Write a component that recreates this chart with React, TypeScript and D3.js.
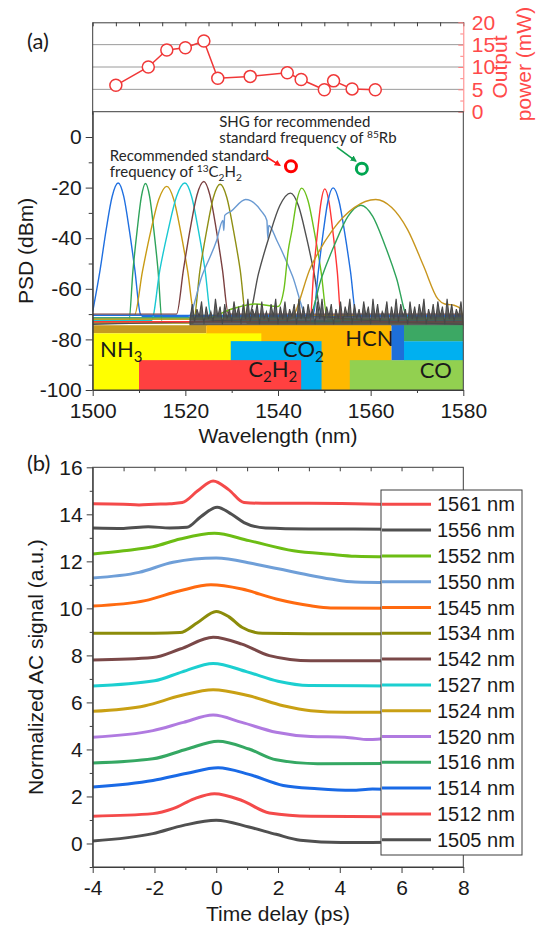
import React, { useEffect, useRef } from "react";
import * as d3 from "d3";

// ---------- (a) top: output power of each tuned line ----------
const laserWl = [1505, 1512, 1516, 1520, 1524, 1527, 1534, 1542, 1545, 1550, 1552, 1556, 1561];
const outputPower = [5.9, 10.0, 13.8, 14.3, 15.8, 7.5, 7.9, 8.7, 7.2, 4.9, 6.9, 5.1, 4.9];
const powerTicks = [0, 5, 10, 15, 20];
const powerGrid = [5, 10, 15];

// ---------- (a) PSD spectra, [nm, dBm] ----------
const spectrumPoints: [number, number][][] = [
  [[1500, -69], [1501.6, -52.5], [1502.9, -36.7], [1504.2, -23.5], [1505.5, -18.2], [1506.7, -23.5], [1507.9, -36.7], [1509.1, -52.5], [1510.3, -70], [1511, -71], [1580, -71]],
  [[1500, -73], [1507.8, -73], [1508.7, -52.6], [1509.6, -36.8], [1510.5, -23.7], [1511.4, -18.4], [1512.3, -23.7], [1513.2, -36.8], [1514.1, -52.6], [1515, -73], [1580, -73]],
  [[1500, -70.5], [1509, -70.5], [1510.75, -53], [1512.5, -37.5], [1514.25, -24.7], [1516, -19.5], [1517.5, -24.7], [1519, -37.5], [1520.5, -53], [1522, -70.5], [1580, -70.5]],
  [[1500, -72.5], [1512.7, -72.5], [1514.5, -52.5], [1516.3, -36.7], [1518.1, -23.5], [1519.9, -18.2], [1521.35, -23.5], [1522.8, -36.7], [1524.25, -52.5], [1525.7, -72.5], [1580, -72.5]],
  [[1500, -70], [1518.1, -70], [1519.6, -52.3], [1521.05, -36.3], [1522.5, -23], [1524, -17.6], [1525.3, -23], [1526.65, -36.3], [1528, -52.3], [1529.3, -70], [1580, -70]],
  [[1500, -73.5], [1521.7, -73.5], [1523.15, -52.7], [1524.6, -37], [1526.05, -23.9], [1527.5, -18.7], [1528.95, -23.9], [1530.4, -37], [1531.85, -52.7], [1533.3, -73.5], [1580, -73.5]],
  [[1500, -71.5], [1520.5, -71.5], [1523.6, -54.8], [1526.75, -40.9], [1528.1, -33], [1528.3, -37], [1528.5, -31], [1529.9, -29.3], [1533, -24.7], [1536.4, -29.3], [1537.6, -33], [1537.8, -40], [1538, -35], [1539.75, -40.9], [1543.1, -54.8], [1546.5, -71.5], [1580, -71.5]],
  [[1500, -74], [1533.5, -72], [1535.8, -53.9], [1538.1, -39.3], [1540.4, -27.1], [1542.7, -22.2], [1544.4, -27.1], [1546.1, -39.3], [1547.8, -53.9], [1549.5, -71], [1580, -74]],
  [[1500, -72], [1524, -72], [1530, -68], [1535, -66], [1540, -67], [1541.3, -60], [1542.2, -45], [1543, -37], [1544.05, -25.3], [1545.1, -20.2], [1546.5, -25.3], [1547.9, -38], [1549.3, -53.2], [1550.7, -72], [1580, -72]],
  [[1500, -73], [1546.9, -73], [1547.7, -53.3], [1548.5, -38.2], [1549.3, -25.6], [1550.1, -20.5], [1551, -25.6], [1551.9, -38.2], [1552.8, -53.3], [1553.7, -73], [1580, -73]],
  [[1500, -70.5], [1547.6, -70.5], [1548.7, -53.2], [1549.75, -37.9], [1550.8, -25.2], [1551.9, -20.1], [1553.15, -25.2], [1554.4, -37.9], [1555.65, -53.2], [1556.9, -70.5], [1580, -70.5]],
  [[1500, -71.5], [1546.6, -71.5], [1549.4, -55.6], [1552.25, -42.4], [1555.1, -31.4], [1557.9, -27], [1560.45, -31.4], [1563, -42.4], [1565.55, -55.6], [1568.1, -71.5], [1580, -71.5]],
  [[1500, -72], [1542.5, -72], [1547.15, -51.1], [1551.8, -36.7], [1556.45, -27.9], [1561.1, -24.7], [1564.55, -27.9], [1568, -36.7], [1571.45, -51.1], [1574.5, -64], [1576, -66], [1578, -66.5], [1579.5, -68], [1580, -76]],
];
const spectrumColors = ["#1f6fe0", "#2ea35a", "#c89b14", "#19c8d2", "#7b4040", "#8f8f14", "#6a9ad2", "#505050", "#6cc11a", "#ff3535", "#1f6fe0", "#2ea35a", "#c8961e"];

// noise floor of the dark grey trace, every 0.5 nm from 1521 nm
const noiseStart = 1521;
const grayNoise = [
  -72, -66, -73, -68, -71, -65, -74, -67, -72, -69, -73, -64, -71, -67, -74, -66, -72, -68, -73, -65,
  -71, -67, -74, -66, -72, -64, -73, -68, -71, -66, -74, -65, -72, -69, -73, -66, -71, -64, -74, -67,
  -72, -65, -73, -68, -71, -66, -74, -64, -72, -67, -73, -66, -71, -68, -74, -65, -72, -64, -73, -67,
  -71, -66, -74, -68, -72, -65, -73, -67, -71, -64, -74, -66, -72, -68, -73, -65, -71, -67, -74, -64,
  -72, -66, -73, -69, -71, -65, -74, -67, -72, -64, -73, -66, -71, -68, -74, -65, -72, -67, -73, -66,
  -71, -64, -74, -68, -72, -66, -73, -65, -71, -67, -74, -64, -72, -66, -73, -68, -71, -65, -74,
];
const noiseFloor = -74.4;

// absorption bands [from nm, to nm, bottom dBm, top dBm]
const bands: [number, number, number, number][] = [
  [1500, 1524.5, -77.6, -74.4],
  [1524.5, 1564.5, -100, -74.4],
  [1500, 1536.4, -100, -77.6],
  [1529.8, 1549.4, -100, -80.7],
  [1567.2, 1580, -100, -80.7],
  [1510, 1545, -100, -88.2],
  [1555.5, 1580, -100, -88.2],
  [1564.5, 1567.2, -88.2, -74.4],
  [1567.2, 1580, -80.7, -74.4],
];
const bandColors = ["#c49a22", "#ffb900", "#ffff00", "#00b0f0", "#00b0f0", "#ff4040", "#92d050", "#1e6fd9", "#3ca864"];

type Part = [string, number]; // 0 normal, 1 superscript, -1 subscript
const bandLabels: { parts: Part[]; at: [number, number] }[] = [
  { parts: [["NH", 0], ["3", -1]], at: [1501.6, -86.9] },
  { parts: [["CO", 0], ["2", -1]], at: [1541.1, -87] },
  { parts: [["HCN", 0]], at: [1554.5, -82.5] },
  { parts: [["C", 0], ["2", -1], ["H", 0], ["2", -1]], at: [1533.6, -95] },
  { parts: [["CO", 0]], at: [1570.6, -95.1] },
];

const c2h2Note: Part[][] = [[["Recommended standard", 0]], [["frequency of ", 0], ["13", 1], ["C", 0], ["2", -1], ["H", 0], ["2", -1]]];
const c2h2NoteAt: [number, number] = [1503.7, -9.3];
const rbNote: Part[][] = [[["SHG for recommended", 0]], [["standard frequency of ", 0], ["85", 1], ["Rb", 0]]];
const rbNoteAt: [number, number] = [1527.3, 4.1];
const c2h2Mark: [number, number] = [1542.8, -11.6];
const rbMark: [number, number] = [1558.1, -12.5];
const c2h2Arrow: [number, number][] = [[1537.6, -8], [1540.4, -11.2]];
const rbArrow: [number, number][] = [[1552.7, -4], [1556.8, -9.5]];

// ---------- (b) autocorrelation traces, [ps, a.u.] ----------
const acNames = ["1561 nm", "1556 nm", "1552 nm", "1550 nm", "1545 nm", "1534 nm", "1542 nm", "1527 nm", "1524 nm", "1520 nm", "1516 nm", "1514 nm", "1512 nm", "1505 nm"];
const acTraces: [number, number][][] = [
  [[-4, 14.45], [-3, 14.43], [-2.5, 14.4], [-2, 14.43], [-1.5, 14.45], [-1.1, 14.5], [-0.6, 15.0], [-0.1, 15.42], [0.4, 15.05], [0.9, 14.5], [1.5, 14.47], [3, 14.47], [4.5, 14.45], [5.6, 14.42]],
  [[-4, 13.42], [-3, 13.4], [-2.2, 13.47], [-1.5, 13.42], [-0.95, 13.45], [-0.5, 13.9], [0.03, 14.3], [0.5, 14.0], [0.9, 13.65], [1.6, 13.42], [3, 13.38], [5.6, 13.37]],
  [[-4, 12.31], [-3, 12.45], [-2.05, 12.62], [-1.17, 12.95], [-0.06, 13.19], [1.06, 12.88], [2.5, 12.45], [3.7, 12.3], [4.5, 12.22], [5.6, 12.2]],
  [[-4, 11.29], [-2.5, 11.53], [-1.4, 11.96], [0, 12.14], [1.28, 11.88], [2.83, 11.46], [3.7, 11.25], [4.5, 11.12], [5.6, 11.1]],
  [[-4, 10.1], [-2.3, 10.33], [-1.17, 10.75], [-0.17, 11.0], [0.83, 10.82], [1.94, 10.4], [3.06, 10.11], [3.7, 10.02], [5.6, 10.0]],
  [[-4, 8.94], [-2, 8.94], [-1.17, 8.97], [-0.6, 9.4], [0, 9.87], [0.4, 9.65], [0.83, 9.2], [1.5, 8.94], [3, 8.92], [5.6, 8.92]],
  [[-4, 7.8], [-2.05, 7.91], [-1.17, 8.27], [-0.1, 8.77], [0.83, 8.48], [1.72, 7.99], [3.06, 7.77], [5.6, 7.77]],
  [[-4, 6.7], [-2, 6.92], [-1.1, 7.3], [-0.1, 7.66], [1, 7.3], [2, 6.9], [3, 6.72], [5.6, 6.7]],
  [[-4, 5.62], [-2.3, 5.86], [-1.17, 6.28], [-0.1, 6.54], [1.06, 6.28], [2.17, 5.86], [3.06, 5.65], [4.17, 5.58], [5.6, 5.58]],
  [[-4, 4.52], [-2.05, 4.8], [-1.06, 5.15], [-0.1, 5.46], [0.83, 5.15], [1.94, 4.73], [3.06, 4.55], [4.17, 4.52], [4.94, 4.42], [5.6, 4.48]],
  [[-4, 3.42], [-2.05, 3.6], [-0.94, 4.02], [0.06, 4.35], [1.06, 4.02], [1.94, 3.56], [3.28, 3.39], [5.6, 3.4]],
  [[-4, 2.4], [-2.05, 2.68], [-0.94, 2.99], [0.06, 3.22], [1.06, 2.94], [2.17, 2.47], [3.28, 2.33], [4.39, 2.26], [5.06, 2.32], [5.6, 2.3]],
  [[-4, 1.16], [-2.05, 1.27], [-1.4, 1.48], [-0.72, 1.9], [-0.06, 2.12], [0.83, 1.83], [1.72, 1.3], [3.06, 1.16], [5.6, 1.14]],
  [[-4, 0.11], [-2.05, 0.42], [-1.06, 0.77], [0, 0.99], [1.06, 0.7], [1.94, 0.39], [2.72, 0.14], [4.06, 0.04], [5.6, 0.05]],
];
const acColors = ["#f44a4a", "#505050", "#6cbd14", "#6f9fd8", "#ff6a10", "#8c8c0a", "#7a4848", "#1ccfd0", "#c9a014", "#b07ae0", "#35a863", "#1a6ae6", "#f44a4a", "#505050"];

const AX = "#3c3c3c";
const AXIS_FONT = "'Liberation Sans', Arial, sans-serif";
const NOTE_FONT = "Lato, 'Open Sans', sans-serif";

function richText(sel: any, parts: Part[], fs: number) {
  let cur = 0;
  parts.forEach(([t, s]) => {
    const target = s === 1 ? -fs * 0.36 : s === -1 ? fs * 0.22 : 0;
    sel.append("tspan").attr("dy", target - cur).attr("font-size", s ? fs * 0.68 : fs).text(t);
    cur = target;
  });
}

function styleAxis(g: any, color: string, fs = 21) {
  g.attr("font-family", AXIS_FONT);
  g.selectAll("path").attr("stroke", color);
  g.selectAll("line").attr("stroke", color);
  g.selectAll("text").attr("fill", color === AX ? "#1a1a1a" : color).attr("font-size", fs).attr("font-family", AXIS_FONT);
}

const App = () => {
  const svgRef = useRef<SVGSVGElement>(null);

  useEffect(() => {
    document.body.style.margin = "0";
    const svg = d3.select(svgRef.current);
    svg.selectAll("*").remove();

    const xWl = d3.scaleLinear().domain([1500, 1580]).range([92.7, 463.3]);
    const yPsd = d3.scaleLinear().domain([-100, 10]).range([390, 111.7]);
    const yPow = d3.scaleLinear().domain([0, 20]).range([111.7, 22.3]);
    const xT = d3.scaleLinear().domain([-4, 8]).range([92.7, 463.3]);
    const yAc = d3.scaleLinear().domain([-1, 16]).range([867, 467.3]);

    const defs = svg.append("defs");
    defs.append("clipPath").attr("id", "clipPsd").append("rect")
      .attr("x", xWl(1500)).attr("y", yPsd(10)).attr("width", xWl(1580) - xWl(1500)).attr("height", yPsd(-100) - yPsd(10));
    defs.append("clipPath").attr("id", "clipAc").append("rect")
      .attr("x", xT(-4)).attr("y", yAc(16)).attr("width", xT(8) - xT(-4)).attr("height", yAc(-1) - yAc(16));
    [["arrRed", "#ff1a1a"], ["arrGreen", "#10a050"]].forEach(([id, c]) => {
      defs.append("marker").attr("id", id).attr("viewBox", "0 0 10 10").attr("refX", 8).attr("refY", 5)
        .attr("markerWidth", 4).attr("markerHeight", 4).attr("orient", "auto")
        .append("path").attr("d", "M0,0L10,5L0,10z").attr("fill", c);
    });

    // ---------- power panel ----------
    const pow = svg.append("g");
    pow.selectAll(".grid").data(powerGrid).enter().append("line")
      .attr("x1", xWl(1500)).attr("x2", xWl(1580)).attr("y1", (d) => yPow(d)).attr("y2", (d) => yPow(d))
      .attr("stroke", "#9a9a9a").attr("stroke-width", 1);
    pow.append("line").attr("x1", xWl(1500)).attr("x2", xWl(1500)).attr("y1", yPow(20)).attr("y2", yPow(0) + 3).attr("stroke", AX);
    const powTop = pow.append("g").attr("transform", `translate(0,${yPow(20)})`)
      .call(d3.axisBottom(xWl).tickValues(d3.range(1500, 1581, 5)).tickSize(4).tickSizeOuter(0).tickFormat(() => ""));
    styleAxis(powTop, AX);
    const powLine = d3.line<number>().x((d, i) => xWl(laserWl[i])).y((d) => yPow(d));
    pow.append("path").attr("d", powLine(outputPower)).attr("fill", "none").attr("stroke", "#f03838").attr("stroke-width", 1.5);
    pow.selectAll(".pt").data(outputPower).enter().append("circle")
      .attr("cx", (d, i) => xWl(laserWl[i])).attr("cy", (d) => yPow(d)).attr("r", 6)
      .attr("fill", "#fff").attr("stroke", "#f03838").attr("stroke-width", 1.5);
    const powRight = pow.append("g").attr("transform", `translate(${xWl(1580)},0)`)
      .call(d3.axisRight(yPow).tickValues(powerTicks).tickSize(-5).tickSizeOuter(0).tickPadding(8.5).tickFormat((d) => String(d)));
    styleAxis(powRight, "#ff4a4a");
    powRight.select(".domain").attr("stroke", "#ff8080");
    powRight.selectAll("line").attr("stroke", "#ff8080");
    const powMinor = pow.append("g").attr("transform", `translate(${xWl(1580)},0)`)
      .call(d3.axisRight(yPow).tickValues([2.5, 7.5, 12.5, 17.5]).tickSize(-3).tickFormat(() => ""));
    powMinor.select(".domain").remove();
    powMinor.selectAll("line").attr("stroke", "#ff8080");
    const powTitleY = (yPow(0) + yPow(20)) / 2;
    pow.append("text").attr("transform", `translate(507,${powTitleY}) rotate(-90)`).attr("text-anchor", "middle")
      .attr("font-family", AXIS_FONT).attr("font-size", 21).attr("fill", "#ff4a4a").text("Output");
    pow.append("text").attr("transform", `translate(531,${powTitleY - 3}) rotate(-90)`).attr("text-anchor", "middle")
      .attr("font-family", AXIS_FONT).attr("font-size", 21).attr("fill", "#ff4a4a").text("power (mW)");
    svg.append("text").attr("x", 27).attr("y", 49).attr("font-family", NOTE_FONT).attr("font-size", 22).attr("fill", "#1a1a1a").text("(a)");

    // ---------- PSD panel ----------
    const psd = svg.append("g");
    const plot = psd.append("g").attr("clip-path", "url(#clipPsd)");
    const specLine = d3.line<[number, number]>().x((d) => xWl(d[0])).y((d) => yPsd(d[1])).curve(d3.curveMonotoneX);
    plot.selectAll(".spec").data(spectrumPoints).enter().append("path")
      .attr("d", (d) => specLine(d)).attr("fill", "none")
      .attr("stroke", (d, i) => spectrumColors[i]).attr("stroke-width", 1.4);
    const noiseArea = d3.area<number>().x((d, i) => xWl(noiseStart + i * 0.5)).y0(yPsd(noiseFloor)).y1((d) => yPsd(d));
    plot.append("path").attr("d", noiseArea(grayNoise)).attr("fill", "#4a4a4a").attr("fill-opacity", 0.85)
      .attr("stroke", "#484848").attr("stroke-width", 1.1);
    plot.selectAll(".band").data(bands).enter().append("rect")
      .attr("x", (d) => xWl(d[0])).attr("width", (d) => xWl(d[1]) - xWl(d[0]))
      .attr("y", (d) => yPsd(d[3])).attr("height", (d) => yPsd(d[2]) - yPsd(d[3]))
      .attr("fill", (d, i) => bandColors[i]);
    bandLabels.forEach((b) => {
      const t = psd.append("text").attr("x", xWl(b.at[0])).attr("y", yPsd(b.at[1]))
        .attr("font-family", NOTE_FONT).attr("font-size", 22).attr("fill", "#1a1a1a");
      richText(t, b.parts, 22);
    });

    // annotations
    const note = (lines: Part[][], at: [number, number]) => {
      lines.forEach((parts, k) => {
        const t = psd.append("text").attr("x", xWl(at[0])).attr("y", yPsd(at[1]) + k * 16.7)
          .attr("font-family", NOTE_FONT).attr("font-size", 15).attr("fill", "#262626");
        richText(t, parts, 15);
      });
    };
    note(c2h2Note, c2h2NoteAt);
    note(rbNote, rbNoteAt);
    const arrowLine = d3.line<[number, number]>().x((d) => xWl(d[0])).y((d) => yPsd(d[1]));
    psd.append("path").attr("d", arrowLine(c2h2Arrow)).attr("stroke", "#ff1a1a").attr("stroke-width", 1.6).attr("marker-end", "url(#arrRed)");
    psd.append("path").attr("d", arrowLine(rbArrow)).attr("stroke", "#10a050").attr("stroke-width", 1.6).attr("marker-end", "url(#arrGreen)");
    psd.append("circle").attr("cx", xWl(c2h2Mark[0])).attr("cy", yPsd(c2h2Mark[1])).attr("r", 5.5)
      .attr("fill", "none").attr("stroke", "#ff0000").attr("stroke-width", 3);
    psd.append("circle").attr("cx", xWl(rbMark[0])).attr("cy", yPsd(rbMark[1])).attr("r", 5.5)
      .attr("fill", "none").attr("stroke", "#00a651").attr("stroke-width", 3);

    // frame + axes
    psd.append("rect").attr("x", xWl(1500)).attr("y", yPsd(10)).attr("width", xWl(1580) - xWl(1500))
      .attr("height", yPsd(-100) - yPsd(10)).attr("fill", "none").attr("stroke", AX);
    const psdX = psd.append("g").attr("transform", `translate(0,${yPsd(-100)})`)
      .call(d3.axisBottom(xWl).tickValues([1500, 1520, 1540, 1560, 1580]).tickSize(6).tickSizeOuter(0).tickPadding(7).tickFormat((d) => String(d)));
    styleAxis(psdX, AX);
    const psdXm = psd.append("g").attr("transform", `translate(0,${yPsd(-100)})`)
      .call(d3.axisBottom(xWl).tickValues([1510, 1530, 1550, 1570]).tickSize(3).tickFormat(() => ""));
    psdXm.select(".domain").remove();
    styleAxis(psdXm, AX);
    const psdY = psd.append("g").attr("transform", `translate(${xWl(1500)},0)`)
      .call(d3.axisLeft(yPsd).tickValues([-100, -80, -60, -40, -20, 0]).tickSize(7).tickSizeOuter(0).tickPadding(4).tickFormat((d) => String(d)));
    styleAxis(psdY, AX);
    const psdYm = psd.append("g").attr("transform", `translate(${xWl(1500)},0)`)
      .call(d3.axisLeft(yPsd).tickValues([-90, -70, -50, -30, -10]).tickSize(4).tickFormat(() => ""));
    psdYm.select(".domain").remove();
    styleAxis(psdYm, AX);
    psd.append("text").attr("x", (xWl(1500) + xWl(1580)) / 2).attr("y", 443).attr("text-anchor", "middle")
      .attr("font-family", AXIS_FONT).attr("font-size", 21).attr("fill", "#1a1a1a").text("Wavelength (nm)");
    psd.append("text").attr("transform", `translate(33,${(yPsd(10) + yPsd(-100)) / 2}) rotate(-90)`).attr("text-anchor", "middle")
      .attr("font-family", AXIS_FONT).attr("font-size", 21).attr("fill", "#1a1a1a").text("PSD (dBm)");

    // ---------- autocorrelation panel ----------
    const ac = svg.append("g");
    const acPlot = ac.append("g").attr("clip-path", "url(#clipAc)");
    const acLine = d3.line<[number, number]>().x((d) => xT(d[0])).y((d) => yAc(d[1])).curve(d3.curveMonotoneX);
    acPlot.selectAll(".ac").data(acTraces).enter().append("path")
      .attr("d", (d) => acLine(d)).attr("fill", "none")
      .attr("stroke", (d, i) => acColors[i]).attr("stroke-width", 3);
    ac.append("rect").attr("x", xT(-4)).attr("y", yAc(16)).attr("width", xT(8) - xT(-4))
      .attr("height", yAc(-1) - yAc(16)).attr("fill", "none").attr("stroke", AX);
    const acX = ac.append("g").attr("transform", `translate(0,${yAc(-1)})`)
      .call(d3.axisBottom(xT).tickValues([-4, -2, 0, 2, 4, 6, 8]).tickSize(6).tickSizeOuter(0).tickPadding(7).tickFormat((d) => String(d)));
    styleAxis(acX, AX);
    const acXm = ac.append("g").attr("transform", `translate(0,${yAc(-1)})`)
      .call(d3.axisBottom(xT).tickValues([-3, -1, 1, 3, 5, 7]).tickSize(3).tickFormat(() => ""));
    acXm.select(".domain").remove();
    styleAxis(acXm, AX);
    const acTop = ac.append("g").attr("transform", `translate(0,${yAc(16)})`)
      .call(d3.axisBottom(xT).tickValues(d3.range(-3, 8, 1)).tickSize(4).tickFormat(() => ""));
    acTop.select(".domain").remove();
    styleAxis(acTop, AX);
    const acY = ac.append("g").attr("transform", `translate(${xT(-4)},0)`)
      .call(d3.axisLeft(yAc).tickValues([0, 2, 4, 6, 8, 10, 12, 14, 16]).tickSize(6).tickSizeOuter(0).tickPadding(4).tickFormat((d) => String(d)));
    styleAxis(acY, AX);
    const acYm = ac.append("g").attr("transform", `translate(${xT(-4)},0)`)
      .call(d3.axisLeft(yAc).tickValues([-1, 1, 3, 5, 7, 9, 11, 13, 15]).tickSize(3).tickFormat(() => ""));
    acYm.select(".domain").remove();
    styleAxis(acYm, AX);
    ac.append("text").attr("x", (xT(-4) + xT(8)) / 2).attr("y", 921).attr("text-anchor", "middle")
      .attr("font-family", AXIS_FONT).attr("font-size", 21).attr("fill", "#1a1a1a").text("Time delay (ps)");
    ac.append("text").attr("transform", `translate(43,${(yAc(16) + yAc(-1)) / 2}) rotate(-90)`).attr("text-anchor", "middle")
      .attr("font-family", AXIS_FONT).attr("font-size", 21).attr("fill", "#1a1a1a").text("Normalized AC signal (a.u.)");
    svg.append("text").attr("x", 27).attr("y", 471).attr("font-family", NOTE_FONT).attr("font-size", 22).attr("fill", "#1a1a1a").text("(b)");

    // legend
    const leg = ac.append("g").attr("transform", "translate(381,490)");
    leg.append("rect").attr("width", 141).attr("height", 365).attr("fill", "#fff").attr("stroke", AX);
    const rows = leg.selectAll(".row").data(acNames).enter().append("g")
      .attr("transform", (d, i) => `translate(0,${14.3 + i * 25.8})`);
    rows.append("line").attr("x1", 1).attr("x2", 50).attr("stroke", (d, i) => acColors[i]).attr("stroke-width", 3);
    rows.append("text").attr("x", 56).attr("dy", "0.35em").attr("font-family", AXIS_FONT).attr("font-size", 20)
      .attr("fill", "#1a1a1a").text((d) => d);
  }, []);

  return <svg ref={svgRef} width={539} height={933} style={{ display: "block", background: "#fff" }} />;
};

export default App;
